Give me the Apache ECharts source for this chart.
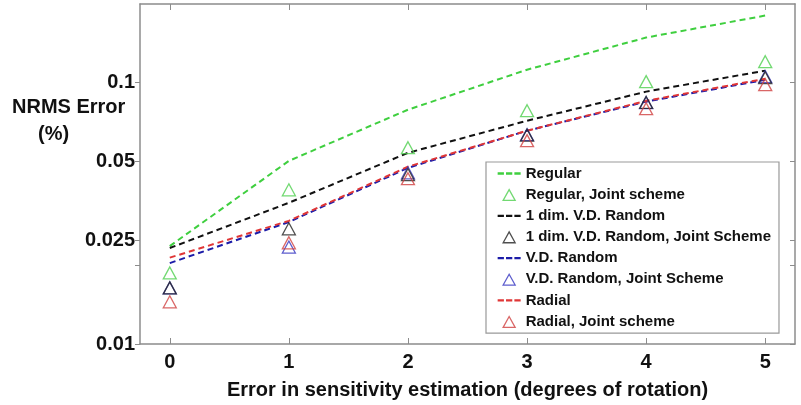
<!DOCTYPE html>
<html>
<head>
<meta charset="utf-8">
<script src="https://cdn.jsdelivr.net/npm/echarts@6/dist/echarts.min.js"></script>
<style>html,body{margin:0;padding:0;background:#fff}#c{width:801px;height:405px}</style>
</head>
<body>
<div id="c"></div>
<script>
const xValues = [0, 1, 2, 3, 4, 5];
const regular      = [0.0237, 0.0502, 0.0788, 0.1121, 0.1488, 0.1806];
const regularJoint = [0.0187, 0.0389, 0.0564, 0.0781, 0.1009, 0.1203];
const oneDim       = [0.0233, 0.0347, 0.0539, 0.0715, 0.0924, 0.1112];
const oneDimJoint  = [0.0164, 0.0276, 0.0445, 0.0630, 0.0840, 0.1045];
const vdRandom     = [0.0204, 0.0293, 0.0472, 0.0655, 0.0846, 0.1026];
const vdJoint      = [0.0164, 0.0235, 0.0452, 0.0632, 0.0838, 0.1055];
const radial       = [0.0214, 0.0296, 0.0477, 0.0655, 0.0852, 0.1035];
const radialJoint  = [0.0145, 0.0244, 0.0429, 0.0600, 0.0795, 0.0983];
const yTickValues = [0.01, 0.02, 0.025, 0.05, 0.1];
const yLabelValues = [0.01, 0.025, 0.05, 0.1];
const names = ['Regular', 'Regular, Joint scheme', '1 dim. V.D. Random', '1 dim. V.D. Random, Joint Scheme',
  'V.D. Random', 'V.D. Random, Joint Scheme', 'Radial', 'Radial, Joint scheme'];

const FONT = '"Liberation Sans", Arial, sans-serif';
const pair = arr => arr.map((v, i) => [xValues[i], v]);
const dashIcon = 'path://M0,0h6v2.2h-6z M8,0h6v2.2h-6z M16,0h6v2.2h-6z';
const triIcon = 'path://M0,0 M23,14 M5.5,12.8L17.5,12.8L11.5,2Z';
const clear = 'rgba(255,255,255,0)';

function lineS(name, data, color) {
  return { name, type: 'line', data: pair(data), showSymbol: false, symbol: 'none',
    lineStyle: { color, width: 2, type: [6, 4] }, itemStyle: { color }, z: 2 };
}
function triS(name, data, color) {
  return { name, type: 'scatter', data: pair(data), symbol: 'triangle', symbolSize: [13, 12],
    itemStyle: { color: clear, borderColor: color, borderWidth: 1.3 }, z: 3 };
}
function triLegend(name, color) {
  return { name, icon: triIcon, itemStyle: { color: clear, borderColor: color, borderWidth: 1.3 } };
}
const axisGray = '#8c8c8c';
const cGreen = '#3fcf3f', cBlack = '#111111', cBlue = '#1c1ca8', cRed = '#e03636';
const tGreen = '#4fcf4f', tBlack = '#222222', tBlue = '#3535c0', tRed = '#d04040';
const chart = echarts.init(document.getElementById('c'));
chart.setOption({
  animation: false,
  grid: { left: 140, right: 6, top: 4, bottom: 61 },
  xAxis: [
    { type: 'value', min: -0.25, max: 5.25, interval: 1, position: 'bottom',
      axisLine: { show: true, onZero: false, lineStyle: { color: axisGray, width: 1.5 } },
      axisTick: { show: true, inside: true, length: 6, lineStyle: { color: axisGray },
        customValues: xValues },
      axisLabel: { customValues: xValues, color: '#111', fontFamily: FONT, fontWeight: 'bold', fontSize: 20, margin: 8 },
      splitLine: { show: false },
      name: 'Error in sensitivity estimation (degrees of rotation)', nameLocation: 'middle', nameGap: 36,
      nameTextStyle: { color: '#111', fontFamily: FONT, fontWeight: 'bold', fontSize: 20 } },
    { type: 'value', min: -0.25, max: 5.25, position: 'top',
      axisLine: { show: true, onZero: false, lineStyle: { color: axisGray, width: 1.5 } },
      axisTick: { show: true, inside: true, length: 6, lineStyle: { color: axisGray }, customValues: xValues },
      axisLabel: { show: false }, splitLine: { show: false } }
  ],
  yAxis: [
    { type: 'log', logBase: 10, min: 0.01, max: 0.2, position: 'left',
      axisLine: { show: true, onZero: false, lineStyle: { color: axisGray, width: 1.5 } },
      axisTick: { show: true, inside: false, length: 5, lineStyle: { color: axisGray }, customValues: yTickValues },
      axisLabel: { customValues: yLabelValues, color: '#111', fontFamily: FONT, fontWeight: 'bold', fontSize: 20, margin: 5,
        formatter: v => String(+v.toPrecision(3)) },
      splitLine: { show: false }, minorTick: { show: false } },
    { type: 'log', logBase: 10, min: 0.01, max: 0.2, position: 'right',
      axisLine: { show: true, onZero: false, lineStyle: { color: axisGray, width: 1.5 } },
      axisTick: { show: true, inside: true, length: 5, lineStyle: { color: axisGray }, customValues: yTickValues },
      axisLabel: { show: false }, splitLine: { show: false } }
  ],
  legend: {
    orient: 'vertical', left: 486, top: 162,
    padding: [4, 8, 4, 11], itemGap: 6, itemWidth: 23, itemHeight: 14,
    backgroundColor: '#fff', borderColor: '#999', borderWidth: 1.2,
    textStyle: { color: '#111', fontFamily: FONT, fontWeight: 'bold', fontSize: 15 },
    data: [
      { name: names[0], icon: dashIcon, itemStyle: { color: cGreen } }, triLegend(names[1], tGreen),
      { name: names[2], icon: dashIcon, itemStyle: { color: cBlack } }, triLegend(names[3], tBlack),
      { name: names[4], icon: dashIcon, itemStyle: { color: cBlue } }, triLegend(names[5], tBlue),
      { name: names[6], icon: dashIcon, itemStyle: { color: cRed } }, triLegend(names[7], tRed)
    ]
  },
  graphic: [
    { type: 'text', left: 12, top: 97, style: { text: 'NRMS Error', fill: '#111', font: 'bold 20px ' + FONT } },
    { type: 'text', left: 38, top: 124, style: { text: '(%)', fill: '#111', font: 'bold 20px ' + FONT } }
  ],
  series: [
    lineS(names[0], regular, cGreen),
    lineS(names[2], oneDim, cBlack),
    lineS(names[4], vdRandom, cBlue),
    lineS(names[6], radial, cRed),
    triS(names[1], regularJoint, tGreen),
    triS(names[5], vdJoint, tBlue),
    triS(names[3], oneDimJoint, tBlack),
    triS(names[7], radialJoint, tRed)
  ]
});
</script>
</body>
</html>
